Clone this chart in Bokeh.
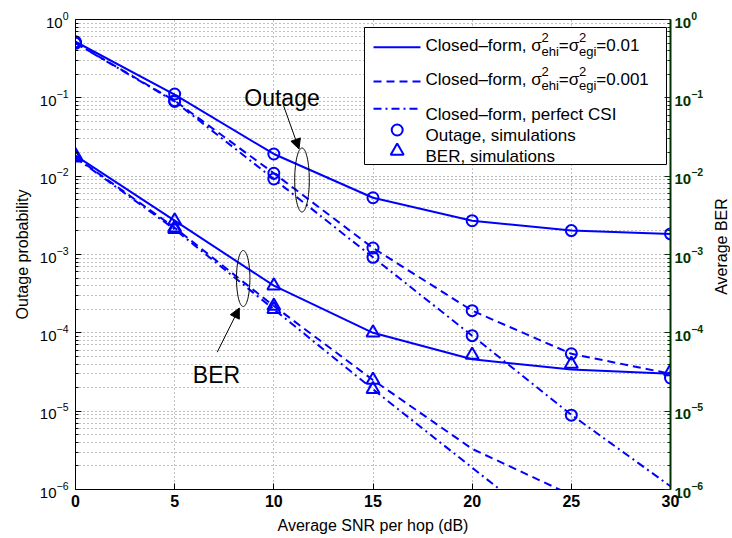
import math
from bokeh.plotting import figure
from bokeh.layouts import row
from bokeh.models import LogAxis, FixedTicker, Arrow, NormalHead, Range1d, LogTickFormatter
from bokeh.embed import file_html
from bokeh.resources import INLINE
from bokeh.core.properties import value

# ---------------- data ----------------
snr_db = [0, 5, 10, 15, 20, 25, 30]
x_ticks = [0, 5, 10, 15, 20, 25, 30]

# Outage probability, closed form
out_cf_e001 = [0.52, 0.11, 0.0192, 0.0053, 0.0027, 0.00202, 0.00183]
out_cf_e0001 = [0.5, 0.092, 0.0109, 0.00121, 1.92e-4, 5.4e-5, 3.0e-5]
out_cf_perfect = [0.5, 0.09, 0.0092, 0.00092, 9.2e-5, 9.0e-6, 1.1e-6]
# Outage probability, simulations
out_sim_e001 = [0.52, 0.112, 0.0192, 0.0053, 0.0027, 0.00202, 0.00183]
out_sim_e0001 = [0.5, 0.092, 0.0109, 0.00121, 1.92e-4, 5.4e-5, 2.65e-5]
snr_sim_perfect = [0, 5, 10, 15, 20, 25]
out_sim_perfect = [0.5, 0.09, 0.0092, 0.00092, 9.2e-5, 8.9e-6]

# Average BER, closed form
ber_cf_e001 = [0.0183, 0.0027, 4.0e-4, 1.0e-4, 4.6e-5, 3.4e-5, 3.0e-5]
ber_cf_e0001 = [0.0175, 0.0022, 2.2e-4, 2.5e-5, 3.3e-6, 8.5e-7, 4.0e-7]
ber_cf_perfect = [0.0172, 0.0021, 2.0e-4, 1.9e-5, 1.9e-6, 1.9e-7, 1.9e-8]
# Average BER, simulations
ber_sim_e001 = [0.0183, 0.0027, 4.0e-4, 1.0e-4, 5.2e-5, 4.0e-5, 3.2e-5]
snr_ber_sim_low = [0, 5, 10, 15]
ber_sim_e0001 = [0.0175, 0.0022, 2.2e-4, 2.5e-5]
ber_sim_perfect = [0.0172, 0.0021, 2.0e-4, 1.9e-5]

decade_exps = [0, -1, -2, -3, -4, -5, -6]
decades = [10.0 ** k for k in decade_exps]
minor_decade_ticks = [m * 10.0 ** k for k in range(-6, 0) for m in range(2, 10)]

# ---------------- styling / geometry ----------------
FONT = "Liberation Sans"
BLUE = "#0000FF"
GREEN = "#003300"
DASH = "8 5"
DASHDOT = "8 4 2 4"

TOTAL_W, TOTAL_H = 730, 536
FX0, FX1, FY0, FY1 = 75, 670, 19, 489
RIGHT_PAD = 36
P_W = FX1 + RIGHT_PAD
P2_W = TOTAL_W - P_W
BOTTOM = TOTAL_H - FY1
DEC = (FY1 - FY0) / 6.0


def X(px):
    return (px - FX0) / (FX1 - FX0) * 30.0


def Y(py):
    return 10 ** (-(py - FY0) / DEC)


yr = Range1d(1e-6, 1.0)
p = figure(width=P_W, height=TOTAL_H, y_axis_type="log", title=None,
           x_range=Range1d(0, 30), y_range=yr,
           output_backend="svg", toolbar_location=None,
           min_border_left=FX0, min_border_right=RIGHT_PAD,
           min_border_top=FY0, min_border_bottom=BOTTOM)
p.background_fill_color = "white"
p.border_fill_color = "white"
p.outline_line_color = "black"
p.outline_line_width = 1

p.xaxis.ticker = FixedTicker(ticks=x_ticks)
p.yaxis.ticker = FixedTicker(ticks=decades, minor_ticks=minor_decade_ticks)

for ax in (p.xaxis[0], p.yaxis[0]):
    ax.axis_line_color = "black"
    ax.axis_line_width = 1
    ax.major_tick_in = 6
    ax.major_tick_out = 0
    ax.minor_tick_in = 3
    ax.minor_tick_out = 0
    ax.major_tick_line_color = "black"
    ax.minor_tick_line_color = "black"
    ax.major_label_text_font = FONT
    ax.axis_label_text_font = FONT
    ax.axis_label_text_font_style = "normal"
    ax.axis_label_text_font_size = "16px"
    ax.axis_label_text_color = "black"
    ax.major_label_text_color = "black"

p.xaxis.axis_label = "Average SNR per hop (dB)"
p.xaxis.major_label_text_font_style = "bold"
p.xaxis.major_label_text_font_size = "16px"
p.xaxis.major_label_standoff = 5
p.xaxis.axis_label_standoff = 7

p.yaxis.axis_label = "Outage probability"
p.yaxis.major_label_text_font_size = "15px"
p.yaxis.major_label_standoff = 7
p.yaxis.axis_label_standoff = 6

# right axis (Average BER), real tick labels
ra = LogAxis(ticker=FixedTicker(ticks=decades, minor_ticks=minor_decade_ticks),
             formatter=LogTickFormatter())
ra.axis_line_color = GREEN
ra.axis_line_width = 2
ra.major_tick_in = 6
ra.major_tick_out = 0
ra.minor_tick_in = 3
ra.minor_tick_out = 0
ra.major_tick_line_color = GREEN
ra.minor_tick_line_color = GREEN
ra.major_label_text_font = FONT
ra.major_label_text_font_size = "15px"
ra.major_label_text_font_style = "bold"
ra.major_label_text_color = GREEN
ra.major_label_standoff = 4
p.add_layout(ra, "right")

# grid
p.xgrid.grid_line_color = "black"
p.xgrid.grid_line_alpha = 0.5
p.xgrid.grid_line_dash = "1 3"
p.ygrid.grid_line_color = "black"
p.ygrid.grid_line_alpha = 0.5
p.ygrid.grid_line_dash = "1 3"
p.ygrid.minor_grid_line_color = "black"
p.ygrid.minor_grid_line_alpha = 0.5
p.ygrid.minor_grid_line_dash = "1 3"

# ---------------- curves ----------------
for ys in (out_cf_e001, ber_cf_e001):
    p.line(snr_db, ys, line_color=BLUE, line_width=2)
for ys in (out_cf_e0001, ber_cf_e0001):
    p.line(snr_db, ys, line_color=BLUE, line_width=2, line_dash=DASH)
for ys in (out_cf_perfect, ber_cf_perfect):
    p.line(snr_db, ys, line_color=BLUE, line_width=2, line_dash=DASHDOT)

circ = dict(marker="circle", size=11, fill_color=None, line_color=BLUE, line_width=2)
tri = dict(marker="triangle", size=13, fill_color=None, line_color=BLUE, line_width=2)
p.scatter(snr_db, out_sim_e001, **circ)
p.scatter(snr_db, out_sim_e0001, **circ)
p.scatter(snr_sim_perfect, out_sim_perfect, **circ)
p.scatter(snr_db, ber_sim_e001, **tri)
p.scatter(snr_ber_sim_low, ber_sim_e0001, **tri)
p.scatter(snr_ber_sim_low, ber_sim_perfect, **tri)

# ---------------- annotations ----------------
def ellipse(cx, cy, rx, ry, n=80):
    xs, ys = [], []
    for i in range(n + 1):
        t = 2 * math.pi * i / n
        xs.append(X(cx + rx * math.cos(t)))
        ys.append(Y(cy + ry * math.sin(t)))
    return xs, ys


ex, ey = ellipse(301.5, 179.5, 7.3, 32.0)
p.line(ex, ey, line_color="black", line_width=1)
ex, ey = ellipse(242.7, 278.0, 6.7, 28.0)
p.line(ex, ey, line_color="black", line_width=1)

head = dict(size=10, fill_color="black", line_color="black", line_width=1)
p.add_layout(Arrow(end=NormalHead(**head), x_start=X(283), y_start=Y(105),
                   x_end=X(298.5), y_end=Y(148.5), line_color="black", line_width=1))
p.add_layout(Arrow(end=NormalHead(**head), x_start=X(216.7), y_start=Y(351.7),
                   x_end=X(238.8), y_end=Y(307.5), line_color="black", line_width=1))

p.text(x=[X(281.5), X(216.0)], y=[Y(97.5), Y(374.0)], text=["Outage", "BER"],
       text_align="center", text_baseline="alphabetic", text_font=value(FONT),
       text_font_size=value("23px"), text_color="black")

# ---------------- legend (drawn manually) ----------------
p.quad(left=[X(364)], right=[X(666)], top=[Y(27)], bottom=[Y(164)],
       fill_color="white", line_color="black", line_width=1)

p.line([X(373), X(420)], [Y(46.7)] * 2, line_color=BLUE, line_width=2)
p.line([X(373), X(420)], [Y(81)] * 2, line_color=BLUE, line_width=2, line_dash=DASH)
p.line([X(373), X(420)], [Y(108.3)] * 2, line_color=BLUE, line_width=2, line_dash=DASHDOT)
p.scatter([X(396.7)], [Y(129.5)], **circ)
p.scatter([X(396.7)], [Y(150.5)], **tri)

W = {'C': 722, 'l': 222, 'o': 556, 's': 500, 'e': 556, 'd': 556, '\u2013': 556, 'f': 278,
     'r': 333, 'm': 833, ',': 278, ' ': 278, '\u03c3': 600, '2': 556, 'h': 556, 'i': 222,
     'g': 556, '=': 584, '0': 556, '.': 278, '1': 556}


def tw(s, size):
    return sum(W.get(c, 556) for c in s) / 1000.0 * size


MAIN, SMALL = 17, 13
big = dict(x=[], y=[], text=[])
small = dict(x=[], y=[], text=[])


def sigma_row(base_y, tail):
    segs = ["Closed\u2013form, \u03c3", ("2", "ehi"), "=\u03c3", ("2", "egi"), tail]
    cur = 425.0
    for s in segs:
        if isinstance(s, tuple):
            sup, sub = s
            small["x"] += [X(cur), X(cur)]
            small["y"] += [Y(base_y - 8.3), Y(base_y + 6.0)]
            small["text"] += [sup, sub]
            cur += max(tw(sup, SMALL), tw(sub, SMALL))
        else:
            big["x"].append(X(cur))
            big["y"].append(Y(base_y))
            big["text"].append(s)
            cur += tw(s, MAIN)


sigma_row(45.0, "=0.01")
sigma_row(79.3, "=0.001")
for by, t in ((114.3, "Closed\u2013form, perfect CSI"), (135.3, "Outage, simulations"),
              (156.0, "BER, simulations")):
    big["x"].append(X(425.0))
    big["y"].append(Y(by))
    big["text"].append(t)

p.text(x=big["x"], y=big["y"], text=big["text"], text_align="left",
       text_baseline="alphabetic", text_font=value(FONT),
       text_font_size=value("%dpx" % MAIN), text_color="black")
p.text(x=small["x"], y=small["y"], text=small["text"], text_align="left",
       text_baseline="alphabetic", text_font=value(FONT),
       text_font_size=value("%dpx" % SMALL), text_color="black")

# ---------------- right strip: "Average BER" reading bottom-to-top ----------------
p2 = figure(width=P2_W, height=TOTAL_H, y_axis_type="log", title=None,
            x_range=Range1d(0, P2_W), y_range=yr,
            x_axis_location=None, y_axis_location=None,
            output_backend="svg", toolbar_location=None,
            min_border_left=0, min_border_right=0,
            min_border_top=FY0, min_border_bottom=BOTTOM)
p2.outline_line_color = None
p2.background_fill_color = "white"
p2.border_fill_color = "white"
p2.xgrid.grid_line_color = None
p2.ygrid.grid_line_color = None
p2.text(x=[721 - P_W], y=[Y(246)], text=["Average BER"], angle=math.pi / 2,
        text_align="center", text_baseline="middle", text_font=value(FONT),
        text_font_size=value("16px"), text_color="black")

layout = row(p, p2, spacing=0)
open("out.html", "w").write(file_html(layout, INLINE))
